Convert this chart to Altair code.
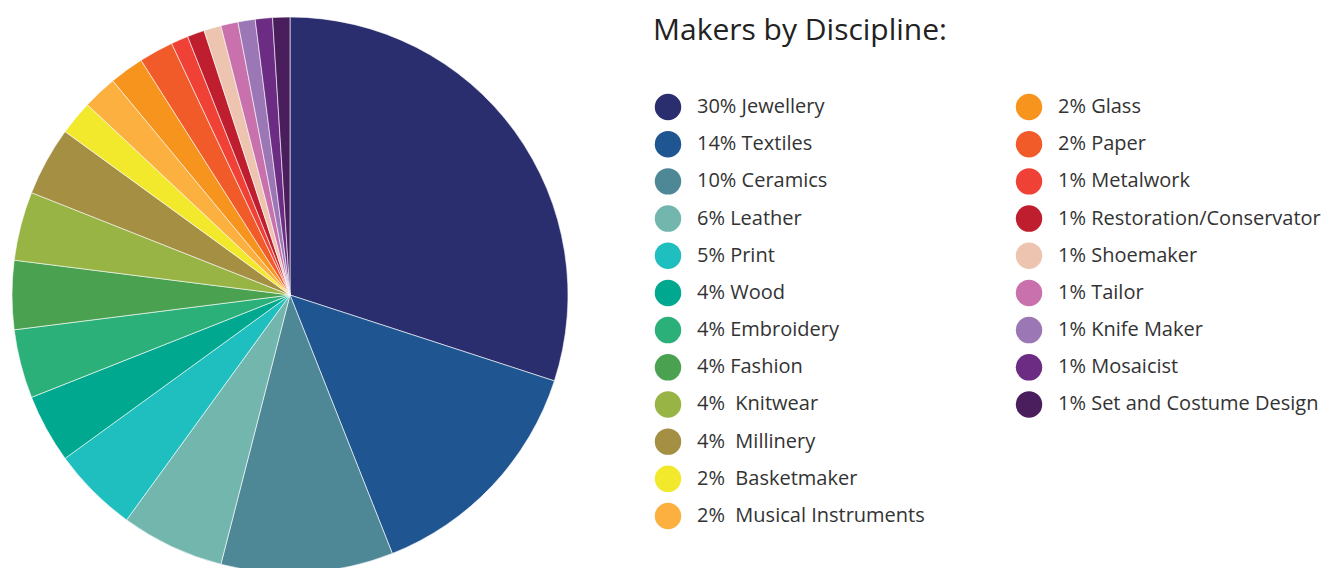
import altair as alt
import pandas as pd

labels = ["Jewellery", "Textiles", "Ceramics", "Leather", "Print", "Wood",
          "Embroidery", "Fashion", "Knitwear", "Millinery", "Basketmaker",
          "Musical Instruments", "Glass", "Paper", "Metalwork",
          "Restoration/Conservator", "Shoemaker", "Tailor", "Knife Maker",
          "Mosaicist", "Set and Costume Design"]
percents = [30, 14, 10, 6, 5, 4, 4, 4, 4, 4, 2, 2, 2, 2, 1, 1, 1, 1, 1, 1, 1]
legend_text = ["30% Jewellery", "14% Textiles", "10% Ceramics", "6% Leather",
               "5% Print", "4% Wood", "4% Embroidery", "4% Fashion",
               "4%\u00a0 Knitwear", "4%\u00a0 Millinery", "2%\u00a0 Basketmaker",
               "2%\u00a0 Musical Instruments", "2% Glass", "2% Paper",
               "1% Metalwork", "1% Restoration/Conservator", "1% Shoemaker",
               "1% Tailor", "1% Knife Maker", "1% Mosaicist",
               "1% Set and Costume Design"]
colors = ["#2a2e6e", "#1f5591", "#4e8796", "#72b6ae", "#1fbfc0", "#00a88f",
          "#2bb07a", "#4aa250", "#97b444", "#a48f42", "#f2e92c", "#fbb040",
          "#f7941d", "#f15a29", "#ef4136", "#be1e2d", "#ecc4b0", "#c871ac",
          "#9b78b5", "#6c2c84", "#4a1d5c"]
legend_col = [0] * 12 + [1] * 9
legend_row = list(range(12)) + list(range(9))
title_text = "Makers by Discipline:"

df = pd.DataFrame({
    "idx": list(range(len(labels))),
    "label": labels,
    "value": percents,
    "text": legend_text,
    "col": legend_col,
    "row": legend_row,
})

FONT = "Open Sans"
color = alt.Color("label:N", scale=alt.Scale(domain=labels, range=colors), legend=None)

pie = alt.Chart(df).mark_arc(radius=278, stroke="white", strokeWidth=0.6).encode(
    theta=alt.Theta("value:Q", stack=True),
    color=color,
    order=alt.Order("idx:Q"),
    x=alt.value(290),
    y=alt.value(295),
)

xs = alt.X("col:Q", scale=alt.Scale(domain=[0, 1], range=[668, 1029]), axis=None)
ys = alt.Y("row:Q", scale=alt.Scale(domain=[0, 11], range=[107, 516]), axis=None)

dots = alt.Chart(df).mark_point(filled=True, shape="circle", size=700, opacity=1).encode(
    x=xs, y=ys, color=color
)

texts = alt.Chart(df).mark_text(align="left", baseline="middle", dx=29, dy=0,
                                fontSize=20, font=FONT, color="#333333").encode(
    x=xs, y=ys, text="text:N"
)

title = alt.Chart(pd.DataFrame({"t": [title_text]})).mark_text(
    align="left", baseline="middle", fontSize=30, font=FONT, color="#222222"
).encode(x=alt.value(653), y=alt.value(31), text="t:N")

chart = alt.layer(pie, dots, texts, title).properties(
    width=1329, height=568,
    autosize=alt.AutoSizeParams(type="none"),
    padding=0,
).configure_view(stroke=None)

chart.save("out.html", embed_options={"renderer": "svg", "actions": False})
